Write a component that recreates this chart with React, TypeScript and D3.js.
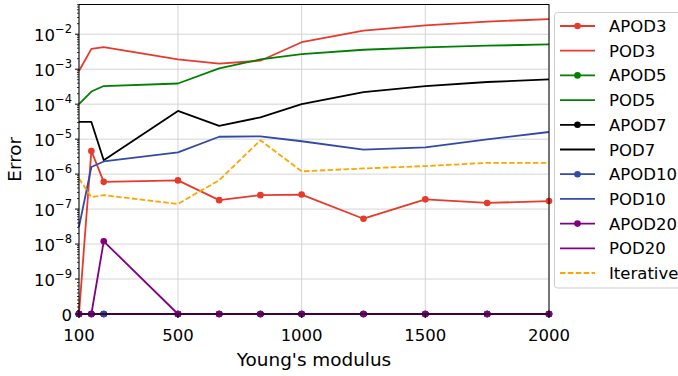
import React, { useRef, useEffect } from 'react';
import * as d3 from 'd3';

const X_VALUES = [100, 150, 200, 500, 666.67, 833.33, 1000, 1250, 1500, 1750, 2000];

const APOD3 = [0, 4.6e-6, 6.0e-7, 6.6e-7, 1.8e-7, 2.5e-7, 2.6e-7, 5.3e-8, 1.9e-7, 1.5e-7, 1.7e-7];
const POD3 = [8.9e-4, 3.8e-3, 4.3e-3, 1.9e-3, 1.45e-3, 1.75e-3, 5.9e-3, 1.27e-2, 1.8e-2, 2.3e-2, 2.7e-2];
const APOD5 = [0, 0, 0, 0, 0, 0, 0, 0, 0, 0, 0];
const POD5 = [1.0e-4, 2.3e-4, 3.3e-4, 3.9e-4, 1.05e-3, 1.9e-3, 2.7e-3, 3.6e-3, 4.2e-3, 4.7e-3, 5.1e-3];
const APOD7 = [0, 0, 0, 0, 0, 0, 0, 0, 0, 0, 0];
const POD7 = [3.1e-5, 3.1e-5, 2.5e-6, 6.4e-5, 2.4e-5, 4.2e-5, 1.0e-4, 2.2e-4, 3.3e-4, 4.3e-4, 5.1e-4];
const APOD10 = [0, 0, 0, 0, 0, 0, 0, 0, 0, 0, 0];
const POD10 = [3.1e-8, 1.6e-6, 2.3e-6, 4.2e-6, 1.17e-5, 1.2e-5, 8.7e-6, 5.0e-6, 5.8e-6, 9.8e-6, 1.6e-5];
const APOD20 = [0, 0, 1.2e-8, 0, 0, 0, 0, 0, 0, 0, 0];
const POD20 = [0, 0, 0, 0, 0, 0, 0, 0, 0, 0, 0];
const ITERATIVE = [7.5e-7, 2.2e-7, 2.5e-7, 1.4e-7, 6.7e-7, 9.3e-6, 1.2e-6, 1.45e-6, 1.7e-6, 2.1e-6, 2.1e-6];

const X_TICKS = [100, 500, 1000, 1500, 2000];
const Y_TICKS = [0, 1e-9, 1e-8, 1e-7, 1e-6, 1e-5, 1e-4, 1e-3, 1e-2];
const Y_TICK_EXP = ['', '−9', '−8', '−7', '−6', '−5', '−4', '−3', '−2'];

const RED = '#e8392b';
const BLUE = '#3349a6';

const SERIES = [
  { name: 'APOD3', values: APOD3, color: RED, marker: true, dash: null },
  { name: 'POD3', values: POD3, color: RED, marker: false, dash: null },
  { name: 'APOD5', values: APOD5, color: 'green', marker: true, dash: null },
  { name: 'POD5', values: POD5, color: 'green', marker: false, dash: null },
  { name: 'APOD7', values: APOD7, color: 'black', marker: true, dash: null },
  { name: 'POD7', values: POD7, color: 'black', marker: false, dash: null },
  { name: 'APOD10', values: APOD10, color: BLUE, marker: true, dash: null },
  { name: 'POD10', values: POD10, color: BLUE, marker: false, dash: null },
  { name: 'APOD20', values: APOD20, color: 'purple', marker: true, dash: null },
  { name: 'POD20', values: POD20, color: 'purple', marker: false, dash: null },
  { name: 'Iterative', values: ITERATIVE, color: 'orange', marker: false, dash: '5.5,2.4' },
];

// matplotlib-style symlog: linear below 1e-9, one decade per unit above
const LINTHRESH = 1e-9;
const symT = (v: number) => (v <= LINTHRESH ? v / LINTHRESH : 1 + Math.log10(v / LINTHRESH));

const FONT = 'DejaVu Sans, sans-serif';

const App: React.FC = () => {
  const svgRef = useRef<SVGSVGElement>(null);

  useEffect(() => {
    if (!svgRef.current) return;
    const W = 678;
    const H = 376;
    const left = 79, right = 549, top = 4.5, bottom = 314;

    const svg = d3.select(svgRef.current);
    svg.selectAll('*').remove();
    svg.attr('width', W).attr('height', H);

    const x = d3.scaleLinear().domain([100, 2000]).range([left, right]);
    const yLin = d3.scaleLinear().domain([0, 8.85]).range([bottom, top]);
    const y = (v: number) => yLin(symT(v));

    svg.append('rect').attr('width', W).attr('height', H).attr('fill', 'white');

    // Grid
    const grid = svg.append('g').attr('stroke', '#d4d4d4').attr('stroke-width', 1);
    grid.selectAll('.gx').data(X_TICKS).join('line')
      .attr('x1', d => x(d)).attr('x2', d => x(d)).attr('y1', top).attr('y2', bottom);
    grid.selectAll('.gy').data(Y_TICKS).join('line')
      .attr('x1', left).attr('x2', right).attr('y1', d => y(d)).attr('y2', d => y(d));

    // Series
    const clipId = 'plot-clip';
    svg.append('clipPath').attr('id', clipId).append('rect')
      .attr('x', left - 4).attr('y', top).attr('width', right - left + 8).attr('height', bottom - top + 4);
    const plot = svg.append('g').attr('clip-path', `url(#${clipId})`);
    const line = d3.line<number>().x((_, i) => x(X_VALUES[i])).y(d => y(d));

    SERIES.forEach(s => {
      plot.append('path')
        .attr('d', line(s.values))
        .attr('fill', 'none')
        .attr('stroke', s.color)
        .attr('stroke-width', 1.8)
        .attr('stroke-dasharray', s.dash)
        .attr('stroke-linejoin', 'round');
      if (s.marker) {
        plot.selectAll(null).data(s.values).join('circle')
          .attr('cx', (_, i) => x(X_VALUES[i]))
          .attr('cy', d => y(d))
          .attr('r', 3.3)
          .attr('fill', s.color);
      }
    });

    // Spines
    svg.append('rect')
      .attr('x', left).attr('y', top).attr('width', right - left).attr('height', bottom - top)
      .attr('fill', 'none').attr('stroke', 'black').attr('stroke-width', 1);

    // X ticks
    const xt = svg.append('g');
    xt.selectAll('line').data(X_TICKS).join('line')
      .attr('x1', d => x(d)).attr('x2', d => x(d)).attr('y1', bottom).attr('y2', bottom + 4)
      .attr('stroke', 'black');
    xt.selectAll('text').data(X_TICKS).join('text')
      .attr('x', d => x(d)).attr('y', bottom + 27)
      .attr('text-anchor', 'middle')
      .attr('font-family', FONT).attr('font-size', 16.5)
      .text(d => d);

    // Y minor ticks
    const minor: number[] = [];
    for (let e = -9; e <= -1; e++) {
      for (let k = 2; k <= 9; k++) {
        const v = k * Math.pow(10, e);
        if (y(v) >= top) minor.push(v);
      }
    }
    for (let k = 1; k <= 9; k++) minor.push(k * 1e-10);
    svg.append('g').selectAll('line').data(minor).join('line')
      .attr('x1', left - 2).attr('x2', left).attr('y1', d => y(d)).attr('y2', d => y(d))
      .attr('stroke', 'black').attr('stroke-width', 0.8);

    // Y major ticks
    const yt = svg.append('g');
    yt.selectAll('line').data(Y_TICKS).join('line')
      .attr('x1', left - 4).attr('x2', left).attr('y1', d => y(d)).attr('y2', d => y(d))
      .attr('stroke', 'black');
    Y_TICKS.forEach((v, i) => {
      const t = yt.append('text')
        .attr('x', left - 7).attr('y', y(v) + 6.5)
        .attr('text-anchor', 'end')
        .attr('font-family', FONT).attr('font-size', 16.5);
      if (v === 0) {
        t.text('0');
      } else {
        t.append('tspan').text('10');
        t.append('tspan').attr('dy', -8).attr('font-size', 11.5).text(Y_TICK_EXP[i]);
      }
    });

    // Axis labels
    svg.append('text')
      .attr('x', (left + right) / 2).attr('y', 366)
      .attr('text-anchor', 'middle')
      .attr('font-family', FONT).attr('font-size', 18.4)
      .text("Young's modulus");
    svg.append('text')
      .attr('transform', `translate(21,${(top + bottom) / 2}) rotate(-90)`)
      .attr('text-anchor', 'middle')
      .attr('font-family', FONT).attr('font-size', 18.4)
      .text('Error');

    // Legend
    const lg = svg.append('g');
    lg.append('rect')
      .attr('x', 554.5).attr('y', 12.5).attr('width', 140).attr('height', 275.5).attr('rx', 3)
      .attr('fill', 'white').attr('fill-opacity', 0.8)
      .attr('stroke', '#cccccc').attr('stroke-width', 1);
    SERIES.forEach((s, i) => {
      const cy = 26 + i * 24.7;
      lg.append('line')
        .attr('x1', 560).attr('x2', 595).attr('y1', cy).attr('y2', cy)
        .attr('stroke', s.color).attr('stroke-width', 1.8)
        .attr('stroke-dasharray', s.dash);
      if (s.marker) {
        lg.append('circle').attr('cx', 577.5).attr('cy', cy).attr('r', 3.3).attr('fill', s.color);
      }
      lg.append('text')
        .attr('x', 609).attr('y', cy + 6)
        .attr('font-family', FONT).attr('font-size', 16.5)
        .text(s.name);
    });
  }, []);

  return <svg ref={svgRef} style={{ position: 'absolute', left: 0, top: 0, display: 'block' }} />;
};

export default App;
